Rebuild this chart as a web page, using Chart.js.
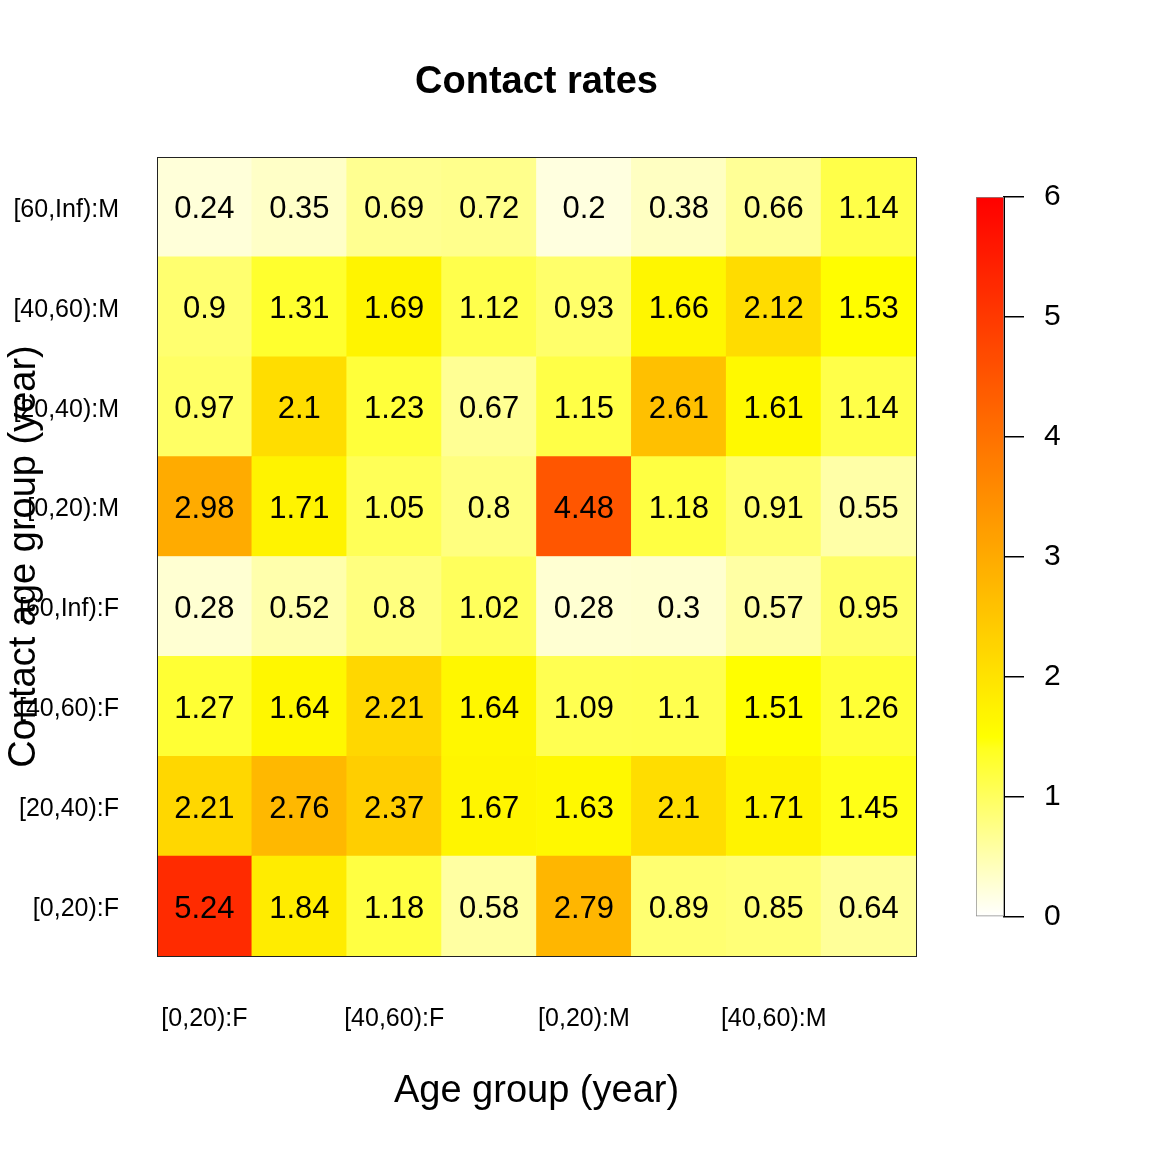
<!DOCTYPE html>
<html>
<head>
<meta charset="utf-8">
<script src="https://cdn.jsdelivr.net/npm/chart.js@4"></script>
<style>
  html, body { margin: 0; padding: 0; background: #fff; }
  #wrap { position: relative; width: 1152px; height: 1152px; }
  #main { position: absolute; left: 0; top: 0; }
  #bar { position: absolute; left: 950px; top: 159px; }
</style>
</head>
<body>
<div id="wrap">
  <canvas id="main" width="1152" height="1152"></canvas>
  <canvas id="bar" width="202" height="796"></canvas>
</div>
<script>
const FONT = "'Liberation Sans', Arial, sans-serif";

// age groups, used for both axes (rows listed bottom to top)
const ageGroups = ['[0,20):F', '[20,40):F', '[40,60):F', '[60,Inf):F',
                   '[0,20):M', '[20,40):M', '[40,60):M', '[60,Inf):M'];

// contact rates, one array per contact age group (row), across age groups (columns)
const contactF_0_20   = [5.24, 1.84, 1.18, 0.58, 2.79, 0.89, 0.85, 0.64];
const contactF_20_40  = [2.21, 2.76, 2.37, 1.67, 1.63, 2.1, 1.71, 1.45];
const contactF_40_60  = [1.27, 1.64, 2.21, 1.64, 1.09, 1.1, 1.51, 1.26];
const contactF_60_inf = [0.28, 0.52, 0.8, 1.02, 0.28, 0.3, 0.57, 0.95];
const contactM_0_20   = [2.98, 1.71, 1.05, 0.8, 4.48, 1.18, 0.91, 0.55];
const contactM_20_40  = [0.97, 2.1, 1.23, 0.67, 1.15, 2.61, 1.61, 1.14];
const contactM_40_60  = [0.9, 1.31, 1.69, 1.12, 0.93, 1.66, 2.12, 1.53];
const contactM_60_inf = [0.24, 0.35, 0.69, 0.72, 0.2, 0.38, 0.66, 1.14];

const rows = [contactF_0_20, contactF_20_40, contactF_40_60, contactF_60_inf,
              contactM_0_20, contactM_20_40, contactM_40_60, contactM_60_inf];

const zMax = 6;
const legendTicks = [0, 1, 2, 3, 4, 5, 6];

// R heat.colors, reversed: white -> yellow -> red
function heatColor(v) {
  const t = Math.min(Math.max(v / zMax, 0), 1);
  if (t < 0.25) {
    const b = Math.round(255 * (1 - t / 0.25 * 0.94));
    return `rgb(255,255,${b})`;
  }
  const g = Math.round(255 * (1 - (t - 0.25) / 0.75));
  return `rgb(255,${g},0)`;
}

const datasets = rows.map((vals, i) => ({
  label: ageGroups[i],
  data: vals.map(() => [i, i + 1]),
  rates: vals,
  backgroundColor: vals.map(heatColor),
  borderWidth: 0,
  grouped: false,
  barPercentage: 1,
  categoryPercentage: 1
}));

// cell numbers, title and frame
const cellText = {
  id: 'cellText',
  afterDatasetsDraw(chart) {
    const ctx = chart.ctx;
    const area = chart.chartArea;
    ctx.save();
    ctx.fillStyle = '#000';
    ctx.font = '31px ' + FONT;
    ctx.textAlign = 'center';
    ctx.textBaseline = 'middle';
    chart.data.datasets.forEach((ds, i) => {
      chart.getDatasetMeta(i).data.forEach((bar, j) => {
        ctx.fillText(String(ds.rates[j]), bar.x, (bar.y + bar.base) / 2 + 3);
      });
    });
    ctx.strokeStyle = '#222';
    ctx.lineWidth = 1;
    ctx.strokeRect(area.left + 0.5, area.top + 0.5, area.right - area.left, area.bottom - area.top);
    ctx.font = 'bold 38px ' + FONT;
    ctx.fillText('Contact rates', (area.left + area.right) / 2, 83);
    ctx.restore();
  }
};

new Chart(document.getElementById('main'), {
  type: 'bar',
  data: { labels: ageGroups, datasets },
  options: {
    responsive: false,
    animation: false,
    layout: { padding: { top: 157, right: 236, left: 0, bottom: 0 } },
    plugins: { legend: { display: false }, tooltip: { enabled: false } },
    scales: {
      x: {
        type: 'category',
        grid: { display: false },
        border: { display: false },
        ticks: {
          autoSkip: false,
          maxRotation: 0,
          padding: 40,
          color: '#000',
          font: { family: FONT, size: 25 },
          callback: (v, i) => (i % 2 === 0 ? ageGroups[i] : '')
        },
        title: {
          display: true,
          text: 'Age group (year)',
          color: '#000',
          font: { family: FONT, size: 38 },
          padding: { top: 0, bottom: 38 }
        },
        afterFit: s => { s.height = 196; }
      },
      y: {
        type: 'linear',
        min: 0,
        max: 8,
        grid: { display: false },
        border: { display: false },
        afterBuildTicks: s => { s.ticks = ageGroups.map((_, i) => ({ value: i + 0.5 })); },
        ticks: {
          padding: 30,
          labelOffset: 3,
          color: '#000',
          font: { family: FONT, size: 25 },
          callback: v => ageGroups[Math.floor(v)]
        },
        title: {
          display: true,
          text: 'Contact age group (year)',
          color: '#000',
          font: { family: FONT, size: 38 },
          padding: { top: 2, bottom: 0 }
        },
        afterFit: s => { s.width = 157; }
      }
    }
  },
  plugins: [cellText]
});

// colour key
function keyGradient(context) {
  const chart = context.chart;
  const y = chart.scales.y;
  if (!chart.chartArea || !y) return '#ffff00';
  const g = chart.ctx.createLinearGradient(0, y.getPixelForValue(0), 0, y.getPixelForValue(zMax));
  for (let k = 0; k <= 60; k++) {
    g.addColorStop(k / 60, heatColor(k / 60 * zMax));
  }
  return g;
}

new Chart(document.getElementById('bar'), {
  type: 'bar',
  data: {
    labels: ['key'],
    datasets: [{
      data: [[0, zMax]],
      backgroundColor: keyGradient,
      borderColor: '#888',
      borderWidth: 1,
      borderSkipped: false,
      barPercentage: 1,
      categoryPercentage: 1
    }]
  },
  options: {
    responsive: false,
    animation: false,
    layout: { padding: { top: 10, bottom: 10, left: 26, right: 0 } },
    plugins: { legend: { display: false }, tooltip: { enabled: false } },
    scales: {
      x: { display: false },
      y: {
        position: 'right',
        min: 0,
        max: zMax,
        afterBuildTicks: s => { s.ticks = legendTicks.map(v => ({ value: v })); },
        grid: { drawOnChartArea: false, tickLength: 20, color: '#000', lineWidth: 1.5 },
        border: { display: true, color: '#000', width: 2 },
        ticks: {
          padding: 20,
          color: '#000',
          font: { family: FONT, size: 30 }
        },
        afterFit: s => { s.width = 148; }
      }
    }
  }
});
</script>
</body>
</html>
